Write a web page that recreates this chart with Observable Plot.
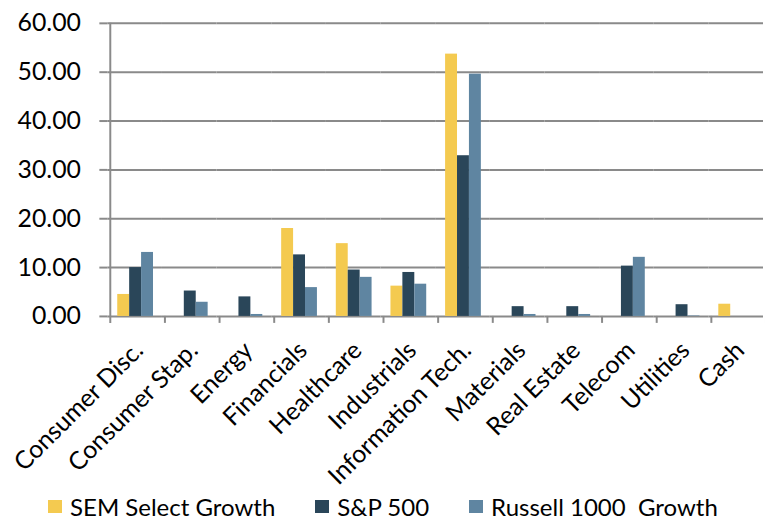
<!DOCTYPE html>
<html>
<head>
<meta charset="utf-8">
<script src="https://cdn.jsdelivr.net/npm/d3@7"></script>
<script src="https://cdn.jsdelivr.net/npm/@observablehq/plot@0.6"></script>
<style>
  html, body { margin: 0; padding: 0; background: #fff; overflow: hidden; width: 765px; height: 522px; }
  #chart svg { display: block; }
  .legend { display: flex; align-items: center; height: 25px; padding-left: 48px; font-family: Lato, sans-serif; font-size: 24px; line-height: 25px; color: #000; }
  .legend .item { display: flex; align-items: center; margin-right: 40px; white-space: pre; }
  .legend .sw { width: 14px; height: 13px; margin-right: 8px; }
</style>
</head>
<body>
<div id="chart"></div>
<div class="legend" id="legend"></div>
<script>
const categories = ["Consumer Disc.", "Consumer Stap.", "Energy", "Financials", "Healthcare", "Industrials", "Information Tech.", "Materials", "Real Estate", "Telecom", "Utilities", "Cash"];
const series = ["SEM Select Growth", "S&P 500", "Russell 1000  Growth"];
const semValues = [4.5, 0, 0, 18.0, 14.9, 6.2, 53.7, 0, 0, 0, 0, 2.5];
const spValues = [10.0, 5.2, 4.0, 12.6, 9.5, 9.0, 32.9, 2.0, 2.0, 10.3, 2.4, 0];
const russellValues = [13.1, 2.9, 0.4, 5.9, 8.0, 6.6, 49.6, 0.4, 0.4, 12.1, 0.1, 0];
const yTicks = [0, 10, 20, 30, 40, 50, 60];
const colors = ["#F4CA50", "#2A4659", "#5F85A1"];

const seriesValues = [semValues, spValues, russellValues];
const data = [];
categories.forEach((c, i) => {
  series.forEach((s, j) => data.push({category: c, series: s, value: seriesValues[j][i]}));
});

const gridColor = "#8a8a8a";
const gridWidth = 2;

let separatorsDrawn = false;
function separators(index, scales, values, dimensions) {
  if (separatorsDrawn) return null;
  separatorsDrawn = true;
  const g = d3.create("svg:g");
  const y = scales.y;
  const fx = scales.fx;
  const yb = y(0), yt = y(60);
  let edges;
  if (fx && fx.step) {
    edges = categories.map(c => fx(c));
    edges.push(fx(categories[categories.length - 1]) + fx.step());
  } else {
    const w = (dimensions.width - dimensions.marginLeft - dimensions.marginRight) / categories.length;
    edges = categories.map((c, i) => dimensions.marginLeft + i * w);
  }
  const left = edges[0];
  g.append("line").attr("x1", left).attr("x2", left).attr("y1", yt).attr("y2", yb + 7)
    .attr("stroke", gridColor).attr("stroke-width", gridWidth);
  edges.slice(1).forEach(e => {
    g.append("line").attr("x1", e).attr("x2", e).attr("y1", yb).attr("y2", yb + 7)
      .attr("stroke", gridColor).attr("stroke-width", gridWidth);
  });
  return g.node();
}

const chart = Plot.plot({
  width: 770,
  height: 497,
  marginLeft: 105,
  marginRight: 0,
  marginTop: 23,
  marginBottom: 179,
  style: {fontFamily: "Lato, sans-serif", fontSize: "24px", color: "#000", background: "#fff"},
  y: {domain: [0, 60], axis: null},
  fx: {domain: categories, padding: 0, label: null, axis: null},
  x: {domain: series, paddingInner: 0, paddingOuter: 0.75, axis: null},
  color: {domain: series, range: colors},
  marks: [
    Plot.ruleY(yTicks, {stroke: gridColor, strokeWidth: gridWidth}),
    Plot.barY(data, {fx: "category", x: "series", y: "value", fill: "series"}),
    Plot.axisY(yTicks, {tickFormat: d3.format(".2f"), tickSize: 8, tickPadding: 19, stroke: gridColor, strokeWidth: gridWidth, fill: "#000", fontSize: 25, label: null}),
    Plot.axisFx({anchor: "bottom", tickRotate: -45, tickSize: 0, tickPadding: 30, dx: 4, fontSize: 25, fill: "#000", label: null}),
    separators
  ]
});
document.getElementById("chart").appendChild(chart);

const legend = document.getElementById("legend");
series.forEach((s, i) => {
  const item = document.createElement("div");
  item.className = "item";
  const sw = document.createElement("span");
  sw.className = "sw";
  sw.style.background = colors[i];
  const t = document.createElement("span");
  t.textContent = s;
  item.appendChild(sw);
  item.appendChild(t);
  legend.appendChild(item);
});
</script>
</body>
</html>
